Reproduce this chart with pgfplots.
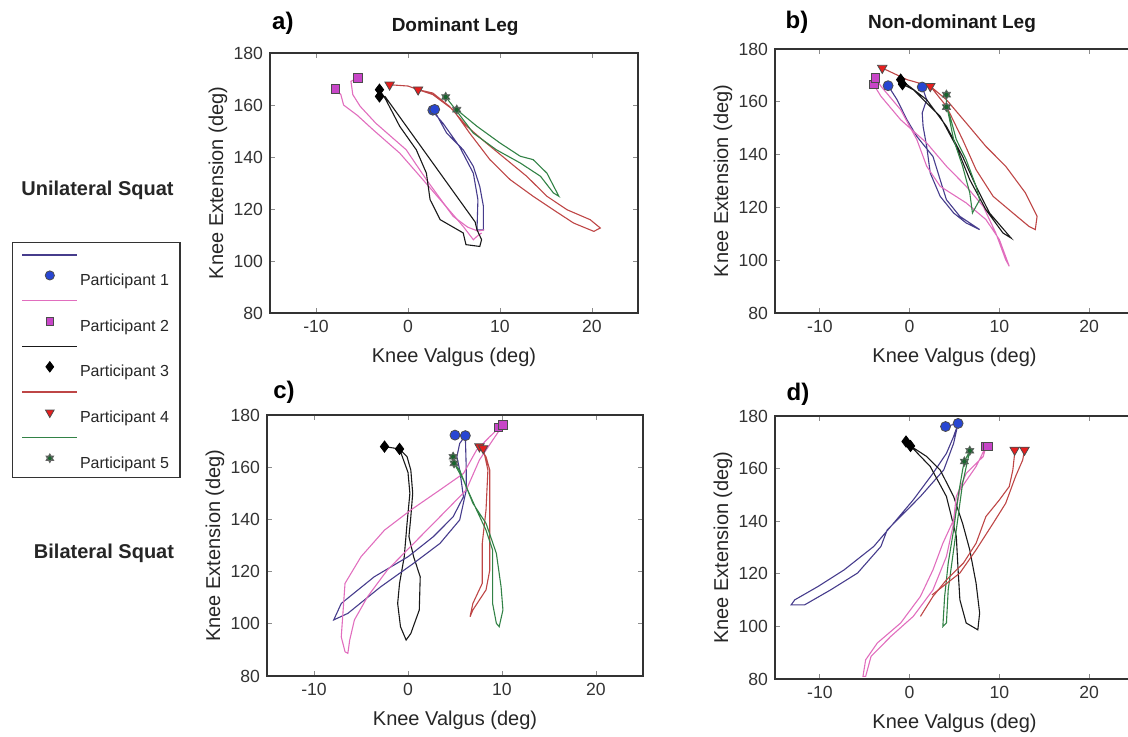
\documentclass[border=0pt]{standalone}
\usepackage{fontspec}
\setmainfont{Liberation Sans}
\usepackage{pgfplots}
\pgfplotsset{compat=1.18}
\usetikzlibrary{plotmarks}
\definecolor{p1l}{RGB}{70,60,140}
\definecolor{p1m}{RGB}{40,70,210}
\definecolor{p2l}{RGB}{225,110,190}
\definecolor{p2m}{RGB}{200,70,200}
\definecolor{p3l}{RGB}{25,25,25}
\definecolor{p4l}{RGB}{190,70,70}
\definecolor{p4m}{RGB}{230,30,30}
\definecolor{p5l}{RGB}{50,130,70}
\definecolor{p5m}{RGB}{25,100,45}
\pgfdeclareplotmark{hexa}{%
  \pgfpathmoveto{\pgfpointpolar{90}{\pgfplotmarksize}}%
  \pgfpathlineto{\pgfpointpolar{210}{\pgfplotmarksize}}%
  \pgfpathlineto{\pgfpointpolar{330}{\pgfplotmarksize}}%
  \pgfpathclose
  \pgfpathmoveto{\pgfpointpolar{270}{\pgfplotmarksize}}%
  \pgfpathlineto{\pgfpointpolar{30}{\pgfplotmarksize}}%
  \pgfpathlineto{\pgfpointpolar{150}{\pgfplotmarksize}}%
  \pgfpathclose
  \pgfusepathqfillstroke}
\pgfplotsset{
  panel/.style={
    scale only axis,
    xmin=-15, xmax=25, ymin=80, ymax=180,
    xtick={-10,0,10,20}, ytick={80,100,...,180},
    tick align=inside, major tick length=2.5pt,
    tick style={black!45, line width=0.4pt},
    axis line style={black!80, line width=0.7pt},
    /pgf/number format/assume math mode=true,
    ticklabel style={font=\fontsize{8.8}{10}\selectfont, text=black!80},
    xlabel={Knee Valgus (deg)}, ylabel={Knee Extension (deg)},
    label style={font=\fontsize{10}{12}\selectfont, text=black!85},
    xlabel style={at={(axis description cs:0.5,0)}, anchor=center, yshift=-22pt},
    ylabel style={at={(axis description cs:0,0.5)}, anchor=center, yshift=26pt},
    clip mode=individual,
  },
  p1/.style={p1l, line width=0.55pt, mark=none, forget plot},
  p2/.style={p2l, line width=0.55pt, mark=none, forget plot},
  p3/.style={p3l, line width=0.55pt, mark=none, forget plot},
  p4/.style={p4l, line width=0.55pt, mark=none, forget plot},
  p5/.style={p5l, line width=0.55pt, mark=none, forget plot},
  m1/.style={only marks, forget plot, mark=*, mark size=2.5pt, mark options={fill=p1m, draw=black!70, line width=0.4pt}},
  m2/.style={only marks, forget plot, mark=square*, mark size=2.1pt, mark options={fill=p2m, draw=black!70, line width=0.4pt}},
  m3/.style={only marks, forget plot, mark=diamond*, mark size=2.8pt, mark options={fill=black, draw=black, line width=0.4pt}},
  m4/.style={only marks, forget plot, mark=triangle*, mark size=2.7pt, mark options={fill=p4m, draw=black!70, line width=0.4pt, rotate=180}},
  m5/.style={only marks, forget plot, mark=hexa, mark size=2.4pt, mark options={fill=p5m, draw=black!60, line width=0.3pt}},
}
\begin{document}
\begin{tikzpicture}
\path[use as bounding box] (0,0) rectangle (564pt,-368pt);

\node[font=\bfseries\fontsize{10}{12}\selectfont, text=black!85] at (48.75pt,-95pt) {Unilateral Squat};
\node[font=\bfseries\fontsize{10}{12}\selectfont, text=black!85] at (52pt,-276.5pt) {Bilateral Squat};

% ---------- a) ----------
\begin{axis}[panel, at={(135pt,-156.5pt)}, anchor=south west, width=184pt, height=130pt,
  legend style={at={(axis description cs:-0.701,0.273)}, anchor=north west,
    draw=black!80, line width=0.6pt, font=\fontsize{8}{9}\selectfont,
    inner xsep=4.5pt, inner ysep=2pt, row sep=0.9pt,
    nodes={inner sep=1pt, text=black!85}},
  legend cell align=left,
  legend image code/.code={
    \path (0pt,17pt);
    \draw[#1, mark=none, line width=0.7pt] (0pt,13.2pt) -- (27.5pt,13.2pt);
    \draw[#1, line width=0.4pt] plot coordinates {(13.75pt,2.9pt)};
  },
]
\node[font=\bfseries\fontsize{12}{14}\selectfont] at (axis description cs:0.035,1.115) {a)};
\node[font=\bfseries\fontsize{9.5}{11}\selectfont, text=black!90] at (axis description cs:0.503,1.1) {Dominant Leg};
\addplot[p1] coordinates {(2.7,158) (3.1,156.3) (4.2,149.2) (6,142.8) (7.1,136.4) (7.8,128.7) (8.2,121) (8.2,112) (7.5,112) (7.6,123.6) (7.1,133.8) (5.6,144) (3.8,153) (2.7,157.5)};
\addplot[p2] coordinates {(-7.9,166.2) (-7.3,164) (-7.0,160) (-5.5,156) (-3.8,150.5) (-0.9,141.5) (1.3,132.6) (3.5,123.6) (6,113.3) (7.1,108.2) (7.5,109.5) (8.0,110.8)};
\addplot[p2] coordinates {(-5.45,170.4) (-6.2,169.1) (-6,164) (-5.2,159.5) (-3.5,153) (-0.2,142.8) (2,131.3) (4.9,117.2) (6.5,113) (7.6,111.5) (8.3,112)};
\addplot[p3] coordinates {(-3.1,165.9) (-2.4,162) (-0.9,151.8) (0.9,142.8) (2,133.8) (2.4,123.6) (3.5,115.9) (6,110.8) (6.3,106.3) (7.8,105.6) (8,108.2) (7.5,112) (7.3,115) (-2.5,163.3) (-3.1,163.3)};
\addplot[p4] coordinates {(-2,167.8) (0,167.3) (1.1,165.9) (2.7,164.6) (4.5,159.5) (6.4,151.8) (8.5,145.4) (10.7,139) (12.9,132.6) (15.1,124.9) (17.3,119.7) (19.8,115.9) (20.9,112.7) (20.2,111.4) (18,114.6) (15.8,119.7) (13.6,124.9) (11.1,131.3) (8.9,139) (6.7,149.2) (4.9,158.2) (2.7,164) (1.1,165.9)};
\addplot[p5] coordinates {(5.3,158.2) (7.5,151.8) (10,145.4) (12.2,140.3) (13.6,139) (15.1,133.8) (16.4,124.9) (15.8,126.2) (14.4,132.6) (12.2,137.7) (9.6,142.8) (7.1,149.2) (4.9,159.5) (4.1,163.1)};
\addplot[m1] coordinates {(2.7,158) (2.9,158.3)};
\addplot[m2] coordinates {(-7.9,166.2) (-5.45,170.4)};
\addplot[m3] coordinates {(-3.1,165.9) (-3.1,163.3)};
\addplot[m4] coordinates {(-2,167.8) (1.1,165.9)};
\addplot[m5] coordinates {(4.1,163.1) (5.3,158.2)};
\addlegendimage{p1l, mark=*, mark size=2.3pt, mark options={fill=p1m, draw=black!70}}
\addlegendentry{Participant 1}
\addlegendimage{p2l, mark=square*, mark size=1.9pt, mark options={fill=p2m, draw=black!70}}
\addlegendentry{Participant 2}
\addlegendimage{p3l, mark=diamond*, mark size=2.6pt, mark options={fill=black, draw=black}}
\addlegendentry{Participant 3}
\addlegendimage{p4l, mark=triangle*, mark size=2.5pt, mark options={fill=p4m, draw=black!70, rotate=180}}
\addlegendentry{Participant 4}
\addlegendimage{p5l, mark=hexa, mark size=2.2pt, mark options={fill=p5m, draw=black!60}}
\addlegendentry{Participant 5}
\end{axis}

% ---------- b) ----------
\begin{axis}[panel, at={(387.5pt,-156.5pt)}, anchor=south west, width=179.5pt, height=132pt]
\node[font=\bfseries\fontsize{12}{14}\selectfont] at (axis description cs:0.061,1.102) {b)};
\node[font=\bfseries\fontsize{9.5}{11}\selectfont, text=black!90] at (axis description cs:0.493,1.095) {Non-dominant Leg};
\addplot[p1] coordinates {(-2.4,166.1) (-1.4,160.8) (-0.3,153.2) (0.8,146.9) (2.6,139.3) (3.4,130.5) (4.1,122.9) (5.6,116.6) (7.8,111.6) (6.3,114.1) (4.9,117.9) (3.4,124.2) (2.3,133) (1.9,143.1) (1.5,150.7) (1.4,155.8) (1.9,160.8) (1.4,165.6)};
\addplot[p2] coordinates {(-4,166.5) (-3.2,162.1) (-1,153.2) (1.9,144.4) (4.1,135.6) (6.3,128) (8.2,120.4) (9.6,110.3) (10.7,100.2) (11.1,97.7) (10,107.8) (8.5,115.4) (6.3,121.7) (3.4,128) (1.9,135.6) (0.8,145.7) (-1,157) (-3.2,165.9) (-3.8,169)};
\addplot[p3] coordinates {(-1,168.4) (1.9,160.8) (4.1,150.7) (5.9,139.3) (7.4,128) (8.9,117.9) (11.3,108.4) (10.4,110.3) (8.5,119.1) (6.7,130.5) (5.2,143.1) (3.4,154.5) (0.4,164.6) (-0.8,166.7)};
\addplot[p4] coordinates {(-3.05,172.8) (-0.3,168.4) (2.3,165.9) (4.1,160.8) (6.3,152) (8.5,143.1) (10.7,135.6) (12.9,125.5) (14.2,116.6) (14,111.6) (13.3,112.8) (11.5,117.9) (9.3,124.2) (7.4,134.3) (5.9,145.7) (4.1,158.3) (2.3,165.9)};
\addplot[p5] coordinates {(4.1,162.7) (4.1,158) (4.5,154.5) (5.2,145.7) (6.3,138.1) (7.4,128) (7.8,122.9) (7,117.9) (6.7,125.5) (5.9,135.6) (4.9,145.7) (4.3,155.8) (4.1,158)};
\addplot[m1] coordinates {(-2.4,166.1) (1.4,165.6)};
\addplot[m2] coordinates {(-4,166.5) (-3.8,169)};
\addplot[m3] coordinates {(-1,168.4) (-0.8,166.7)};
\addplot[m4] coordinates {(-3.05,172.8) (2.3,165.9)};
\addplot[m5] coordinates {(4.1,162.7) (4.1,158)};
\end{axis}

% ---------- c) ----------
\begin{axis}[panel, at={(133.5pt,-338pt)}, anchor=south west, width=188pt, height=130.5pt]
\node[font=\bfseries\fontsize{12}{14}\selectfont] at (axis description cs:0.045,1.088) {c)};
\addplot[p3] coordinates {(-2.5,167.9) (-0.9,167) (-0.1,164) (0.3,158.9) (0.5,150) (0.3,141) (0.1,133.4) (0.6,125.7) (1.3,118) (1.2,105.3) (0.3,96.3) (-0.2,93.8) (-0.8,98.9) (-1.1,107.8) (-0.9,115.5) (-0.4,125.7) (-0.1,138.5) (0.2,150) (0,158) (-0.9,167)};
\addplot[p1] coordinates {(5,172.3) (6.1,172.1) (5.5,169.1) (5.2,164) (5.5,158.9) (5.9,148.7) (4.8,141) (2.7,133.4) (0,125.7) (-3.6,118) (-7.1,107.8) (-7.9,101.5) (-6.4,104) (-2.9,114.2) (0.6,123.2) (3.4,130.8) (5.5,139.8) (6.2,151.3) (6.2,158.9) (6.1,172.1)};
\addplot[p2] coordinates {(9.8,175.5) (8.7,171.7) (7.3,166.6) (5.9,157.6) (3.4,151.3) (0.3,143.6) (-2.5,135.9) (-5,125.7) (-6.7,115.5) (-7.1,95) (-6.7,89.3) (-6.4,88.7) (-6.2,93.8) (-5.7,101.5) (-4.3,110.4) (-2.2,120.6) (0.6,130.8) (3.4,141) (6.2,151.3) (7.6,162.8) (10.1,176.2)};
\addplot[p4] coordinates {(7.6,167.9) (8.3,164) (8.7,158.9) (8.7,146.2) (8.7,133.4) (8.7,120.6) (8.3,113) (6.9,105.3) (6.6,102.7) (6.9,107.8) (7.9,115.5) (7.9,130.8) (8.3,143.6) (8.5,158.9) (8,167.2)};
\addplot[p5] coordinates {(4.8,164) (4.9,161.5) (5.5,158.9) (6.2,152.5) (7.3,143.6) (8.3,135.9) (9,128.3) (9,118) (9,107.8) (9.4,100.2) (9.7,98.9) (10.1,105.3) (9.9,114.2) (9.4,127) (8.3,138.5) (6.9,146.2) (5.9,155.1) (4.9,161.5)};
\addplot[m3] coordinates {(-2.5,167.9) (-0.9,167)};
\addplot[m1] coordinates {(5,172.3) (6.1,172.1)};
\addplot[m2] coordinates {(9.6,175.3) (10.1,176.2)};
\addplot[m5] coordinates {(4.8,164) (4.9,161.5)};
\addplot[m4] coordinates {(7.6,167.9) (8,167.2)};
\end{axis}

% ---------- d) ----------
\begin{axis}[panel, at={(387.5pt,-339.5pt)}, anchor=south west, width=179.5pt, height=131.5pt]
\node[font=\bfseries\fontsize{12}{14}\selectfont] at (axis description cs:0.064,1.084) {d)};
\addplot[p1] coordinates {(4,176) (5.4,177.2) (4.9,172.2) (4.1,165.8) (2.6,158.2) (0.4,148.1) (-1.8,139.2) (-4,130.4) (-7.3,121.5) (-10.2,115.2) (-12.8,110.1) (-13.2,108.2) (-11.7,108.2) (-8.8,113.9) (-5.8,120.3) (-3.2,130.4) (-2.5,136.7) (-1,141.8) (1.2,149.4) (3.8,159.5) (4.9,169.6) (5.4,177.2)};
\addplot[p3] coordinates {(-0.4,170.3) (0.1,168.6) (1.9,164.6) (3.4,159.5) (4.9,149.4) (5.9,139.2) (6.7,129.1) (7.4,116.5) (7.8,105.1) (7.6,98.7) (6.3,101.3) (5.6,110.1) (5.4,121.5) (5.2,134.2) (4.1,149.4) (2.3,160.8) (0.1,168.6)};
\addplot[p2] coordinates {(8.5,168.4) (8.2,164.6) (6.3,158.2) (5.2,149.4) (4.9,140.5) (3.7,131.6) (2.6,121.5) (1.2,111.4) (-1,101.3) (-3.6,93.7) (-4.9,87.3) (-5.2,81) (-4.9,81) (-4.3,88.6) (-2.1,96.2) (0.4,103.8) (2.6,113.9) (4.1,126.6) (4.9,139.2) (5.6,151.9) (7.4,160.8) (8.5,168.4)};
\addplot[p5] coordinates {(6.7,166.8) (6.1,162.7) (5.9,159.5) (5.4,149.4) (4.9,136.7) (4.3,124.1) (3.9,111.4) (3.7,100) (4.1,101.3) (4.3,114) (4.9,129.1) (5.4,141.8) (5.9,154.4) (6.7,166.8)};
\addplot[p4] coordinates {(11.7,167.1) (11.7,165.8) (11.5,159.5) (11.1,153.2) (10,148.1) (8.5,141.8) (7.4,131.6) (6,124.1) (4.1,117.7) (2.6,111.4) (1.2,103.8)};
\addplot[p4] coordinates {(12.8,167.1) (12.6,163.3) (11.8,157) (10.7,146.8) (9.3,139.2) (7.4,129.1) (5.6,120.3) (3.7,115.2) (2.5,112)};
\addplot[m1] coordinates {(4,176) (5.4,177.2)};
\addplot[m3] coordinates {(-0.4,170.3) (0.1,168.6)};
\addplot[m2] coordinates {(8.5,168.4) (8.7,168.5)};
\addplot[m5] coordinates {(6.7,166.8) (6.1,162.7)};
\addplot[m4] coordinates {(11.7,167.1) (12.8,167.1)};
\end{axis}
\end{tikzpicture}
\end{document}
